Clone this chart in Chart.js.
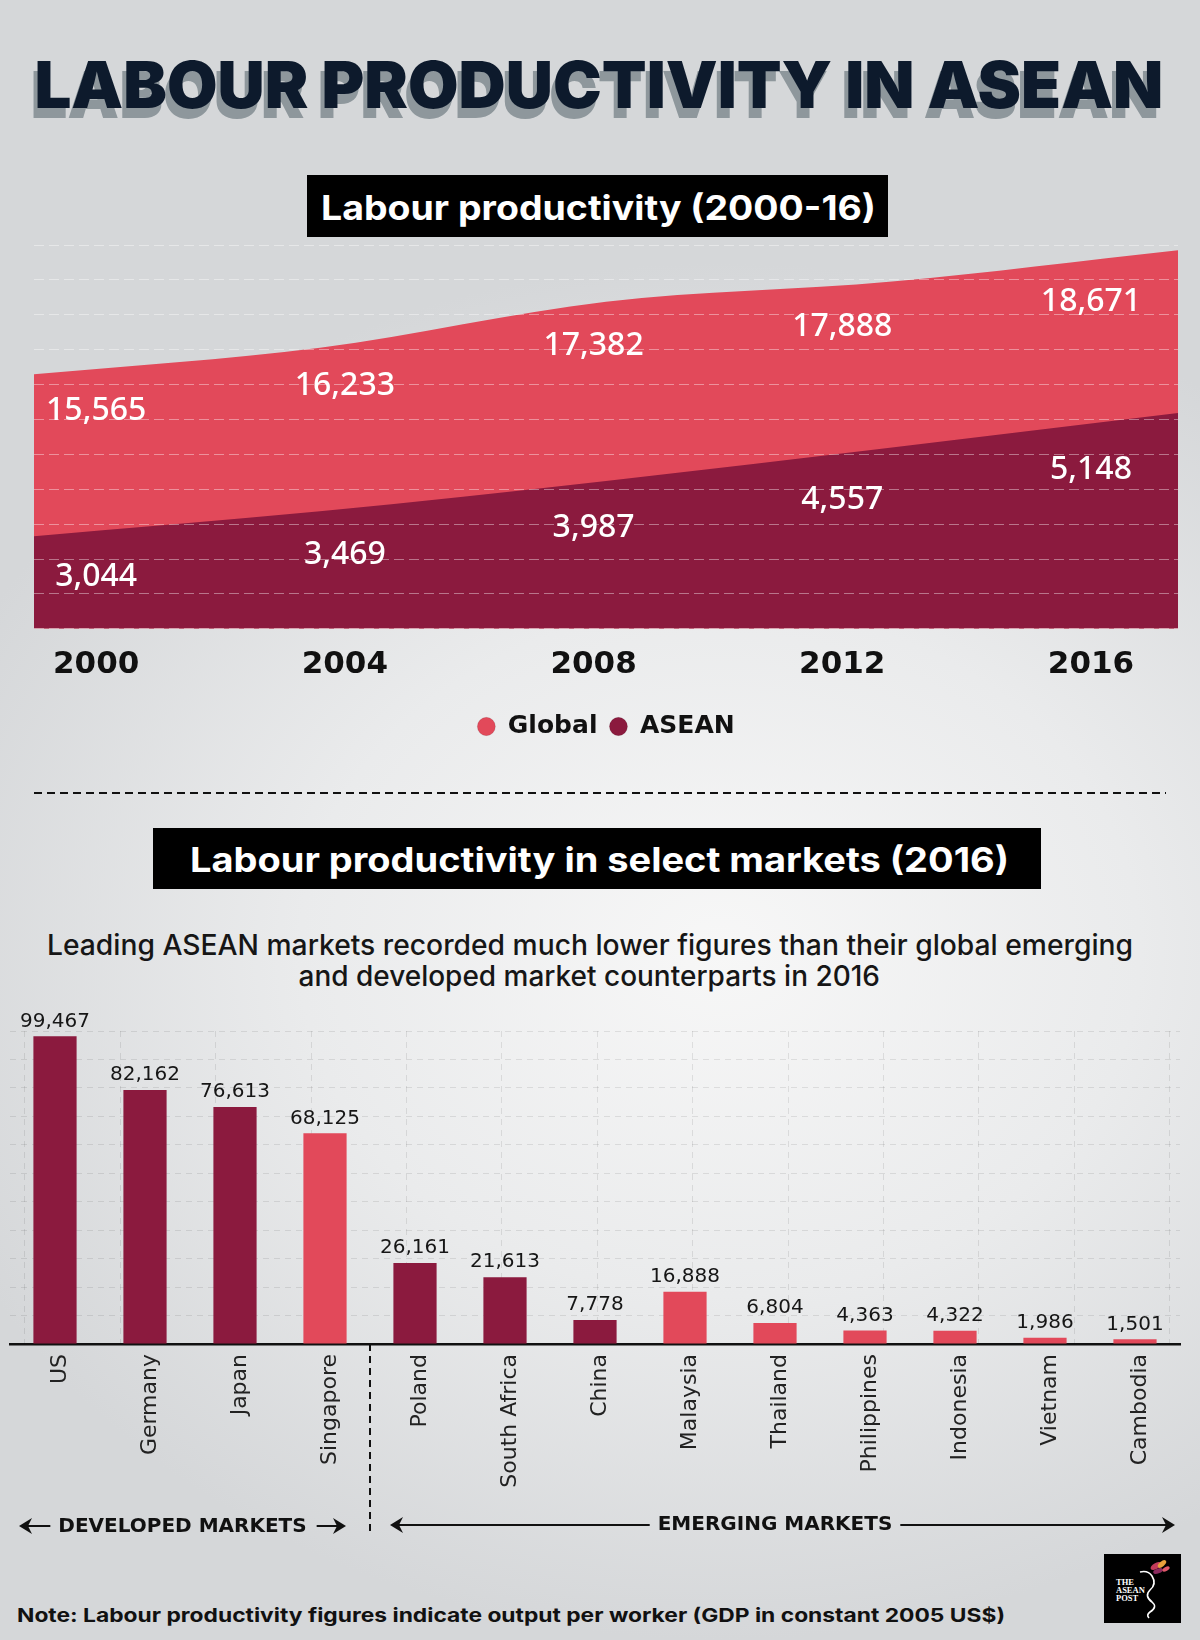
<!DOCTYPE html>
<html>
<head>
<meta charset="utf-8">
<title>Labour productivity in ASEAN</title>
<script src="https://cdn.jsdelivr.net/npm/chart.js@4.4.1/dist/chart.umd.min.js"></script>
<style>
  html, body { margin: 0; padding: 0; }
  body {
    width: 1200px; height: 1640px; position: relative; overflow: hidden;
    background: radial-gradient(ellipse 70% 42% at 60% 58%, #f7f7f7 0%, #eaebec 50%, #d5d7d9 100%);
  }
  #art { position: absolute; left: 0; top: 0; }
  canvas { position: absolute; left: 0; }
  #trendChart { top: 230px; }
  #marketChart { top: 990px; }
</style>
</head>
<body>
<svg id="art" width="1200" height="1640" xmlns="http://www.w3.org/2000/svg">
  <g font-family="Inter, 'Noto Sans', sans-serif">
    <text x="30.4" y="118.3" font-size="64" font-weight="900" fill="#8e979c" textLength="1129" lengthAdjust="spacingAndGlyphs">LABOUR PRODUCTIVITY IN ASEAN</text>
    <text x="34.4" y="108.3" font-size="64" font-weight="900" fill="#0d1a2c" textLength="1129" lengthAdjust="spacingAndGlyphs">LABOUR PRODUCTIVITY IN ASEAN</text>

    <rect x="307" y="175" width="581" height="62" fill="#000"/>
    <text x="321" y="220" font-size="34" font-weight="700" fill="#fff" textLength="555" lengthAdjust="spacingAndGlyphs">Labour productivity (2000-16)</text>

    <line x1="34" y1="793" x2="1166" y2="793" stroke="#111" stroke-width="2" stroke-dasharray="8 5"/>

    <rect x="153" y="828" width="888" height="61" fill="#000"/>
    <text x="190" y="872" font-size="34" font-weight="700" fill="#fff" textLength="819" lengthAdjust="spacingAndGlyphs">Labour productivity in select markets (2016)</text>

    <text x="47" y="955" font-size="28" font-weight="500" fill="#161616" textLength="1086" lengthAdjust="spacingAndGlyphs">Leading ASEAN markets recorded much lower figures than their global emerging</text>
    <text x="298.5" y="986" font-size="28" font-weight="500" fill="#161616" textLength="581.5" lengthAdjust="spacingAndGlyphs">and developed market counterparts in 2016</text>

    <text x="17" y="1622" font-size="19" font-weight="700" fill="#111" textLength="988" lengthAdjust="spacingAndGlyphs">Note: Labour productivity figures indicate output per worker (GDP in constant 2005 US$)</text>
  </g>

  <!-- publisher mark -->
  <g>
    <rect x="1104" y="1554" width="77" height="69" fill="#000"/>
    <g font-family="'Liberation Serif', serif" font-weight="700" font-size="8.5" fill="#fff">
      <text x="1116" y="1585">THE</text>
      <text x="1116" y="1593">ASEAN</text>
      <text x="1116" y="1601">POST</text>
    </g>
    <path d="M1140 1572 q8 -2 12 4 q5 8 -2 14 q-6 6 2 12 q6 5 -2 10 q-4 3 -1 6" fill="none" stroke="#fff" stroke-width="1.6"/>
    <ellipse cx="1156" cy="1566" rx="6" ry="3" fill="#c23a5a" transform="rotate(-30 1156 1566)"/>
    <ellipse cx="1162" cy="1564" rx="5" ry="2.5" fill="#e8a23c" transform="rotate(-40 1162 1564)"/>
    <ellipse cx="1158" cy="1571" rx="5" ry="2.5" fill="#8a2a5e" transform="rotate(-20 1158 1571)"/>
    <ellipse cx="1166" cy="1569" rx="4" ry="2" fill="#e0586a" transform="rotate(-30 1166 1569)"/>
  </g>
</svg>

<canvas id="trendChart" width="1200" height="540"></canvas>
<canvas id="marketChart" width="1200" height="570"></canvas>

<script>
// ---- labour productivity, 2000-16 (output per worker, constant 2005 US$) ----
const years = [2000, 2004, 2008, 2012, 2016];
const globalLP = [15565, 16233, 17382, 17888, 18671];
const aseanLP = [3044, 3469, 3987, 4557, 5148];

// ---- select markets, 2016 ----
const markets = ['US', 'Germany', 'Japan', 'Singapore', 'Poland', 'South Africa', 'China',
                 'Malaysia', 'Thailand', 'Philippines', 'Indonesia', 'Vietnam', 'Cambodia'];
const marketLP = [99467, 82162, 76613, 68125, 26161, 21613, 7778, 16888, 6804, 4363, 4322, 1986, 1501];
const aseanMember = [false, false, false, true, false, false, false, true, true, true, true, true, true];
const developedCount = 4; // US, Germany, Japan, Singapore

const RED = '#e2495a';
const MAROON = '#8b1a3e';

Chart.defaults.font.family = "'DejaVu Sans', sans-serif";
Chart.defaults.color = '#111';

const fmt = v => v.toLocaleString('en-US');

// y of the drawn outline at pixel x (straight between the points)
function curveYAt(meta, px) {
    const pts = meta.data;
    for (let i = 0; i < pts.length - 1; i++) {
        const a = pts[i], b = pts[i + 1];
        if (px >= a.x && px <= b.x) {
            return a.y + (b.y - a.y) * (px - a.x) / (b.x - a.x);
        }
    }
    return pts[pts.length - 1].y;
}

// value labels sit a little under each outline, in the year columns
const labelDrop = [42, 46];
const areaLabels = {
    id: 'areaLabels',
    afterDatasetsDraw(chart) {
        const { ctx } = chart;
        const xYears = chart.scales.xYears;
        ctx.save();
        ctx.fillStyle = '#fff';
        ctx.font = '500 32px "Noto Sans", sans-serif';
        ctx.textAlign = 'center';
        ctx.textBaseline = 'middle';
        chart.data.datasets.forEach((ds, di) => {
            const meta = chart.getDatasetMeta(di);
            ds.data.forEach(pt => {
                const x = xYears.getPixelForValue(pt.x);
                ctx.fillText(fmt(pt.y), x, curveYAt(meta, x) + labelDrop[di]);
            });
        });
        ctx.restore();
    }
};

new Chart(document.getElementById('trendChart'), {
    type: 'line',
    data: {
        datasets: [
            {
                label: 'Global',
                data: years.map((x, i) => ({ x, y: globalLP[i] })),
                xAxisID: 'x', yAxisID: 'yGlobal',
                backgroundColor: RED, fill: 'start', order: 2
            },
            {
                label: 'ASEAN',
                data: years.map((x, i) => ({ x, y: aseanLP[i] })),
                xAxisID: 'x', yAxisID: 'yAsean',
                backgroundColor: MAROON, fill: 'start', order: 1
            }
        ]
    },
    options: {
        responsive: false,
        animation: false,
        layout: { padding: { left: 34, right: 22, top: 15, bottom: 21 } },
        elements: {
            line: { borderWidth: 0, cubicInterpolationMode: 'monotone' },
            point: { radius: 0 }
        },
        scales: {
            x: { type: 'linear', display: false, min: 2000, max: 2016 },
            xYears: {
                axis: 'x', type: 'linear', position: 'bottom', min: 1999, max: 2017.4,
                afterBuildTicks: s => { s.ticks = years.map(v => ({ value: v })); },
                grid: { display: false, drawTicks: false },
                border: { display: false },
                ticks: {
                    padding: 18, maxRotation: 0, autoSkip: false, color: '#111',
                    font: { size: 31, weight: 'bold' },
                    callback: v => String(v)
                }
            },
            yGlobal: { axis: 'y', display: false, min: 9200, max: 18800 },
            yAsean: { axis: 'y', display: false, min: 1460, max: 8020 },
            gridY: {
                axis: 'y', position: 'left', min: 0, max: 11,
                ticks: { display: false, stepSize: 1 },
                grid: { z: 1, color: 'rgba(255,255,255,0.4)', drawTicks: false },
                border: { display: false, dash: [10, 5] }
            }
        },
        plugins: {
            legend: {
                position: 'bottom',
                labels: {
                    sort: (a, b) => a.datasetIndex - b.datasetIndex,
                    usePointStyle: true, pointStyle: 'circle',
                    pointStyleWidth: 18, boxHeight: 13, padding: 12,
                    color: '#111', font: { size: 25, weight: 'bold' }
                }
            },
            tooltip: { enabled: false }
        }
    },
    plugins: [areaLabels]
});

// ---- bar chart ----
const barValueLabels = {
    id: 'barValueLabels',
    afterDatasetsDraw(chart) {
        const { ctx } = chart;
        const meta = chart.getDatasetMeta(0);
        ctx.save();
        ctx.fillStyle = '#161616';
        ctx.font = '20px "DejaVu Sans", sans-serif';
        ctx.textAlign = 'center';
        ctx.textBaseline = 'middle';
        meta.data.forEach((bar, i) => ctx.fillText(fmt(marketLP[i]), bar.x, bar.y - 15));
        ctx.restore();
    }
};

function drawArrow(ctx, tailX, tipX, y) {
    const dir = Math.sign(tipX - tailX);
    ctx.beginPath();
    ctx.moveTo(tailX, y);
    ctx.lineTo(tipX - dir * 6, y);
    ctx.stroke();
    ctx.beginPath();
    ctx.moveTo(tipX, y);
    ctx.lineTo(tipX - dir * 13, y - 8);
    ctx.lineTo(tipX - dir * 9, y);
    ctx.lineTo(tipX - dir * 13, y + 8);
    ctx.closePath();
    ctx.fill();
}

const marketGroups = {
    id: 'marketGroups',
    afterDraw(chart) {
        const { ctx, chartArea } = chart;
        const x = chart.scales.x;
        const left = x.getPixelForValue(-0.5);
        const split = x.getPixelForValue(developedCount - 0.5);
        const right = x.getPixelForValue(markets.length - 0.5);
        const rowY = chartArea.bottom + 182;

        ctx.save();
        ctx.strokeStyle = '#111';
        ctx.fillStyle = '#111';
        ctx.lineWidth = 2;
        ctx.setLineDash([7, 5]);
        ctx.beginPath();
        ctx.moveTo(split, chartArea.bottom);
        ctx.lineTo(split, chartArea.bottom + 190);
        ctx.stroke();
        ctx.setLineDash([]);

        ctx.font = 'bold 20px "DejaVu Sans", sans-serif';
        ctx.textAlign = 'center';
        ctx.textBaseline = 'middle';

        // developed
        const dL = left + 9, dR = split - 24, dMid = (dL + dR) / 2;
        const dHalf = ctx.measureText('DEVELOPED MARKETS').width / 2;
        ctx.fillText('DEVELOPED MARKETS', dMid, rowY + 1);
        drawArrow(ctx, dMid - dHalf - 8, dL, rowY);
        drawArrow(ctx, dMid + dHalf + 10, dR, rowY);

        // emerging
        const eMid = x.getPixelForValue((developedCount + markets.length - 1) / 2);
        const eHalf = ctx.measureText('EMERGING MARKETS').width / 2;
        ctx.fillText('EMERGING MARKETS', eMid, rowY - 1);
        drawArrow(ctx, eMid - eHalf - 8, split + 20, rowY - 1);
        drawArrow(ctx, eMid + eHalf + 8, right - 5, rowY - 1);
        ctx.restore();
    }
};

const gridDash = [6, 5];
const gridColor = 'rgba(0,0,0,0.09)';

new Chart(document.getElementById('marketChart'), {
    type: 'bar',
    data: {
        labels: markets,
        datasets: [{
            data: marketLP,
            backgroundColor: aseanMember.map(a => (a ? RED : MAROON)),
            barPercentage: 0.48,
            categoryPercentage: 1
        }]
    },
    options: {
        responsive: false,
        animation: false,
        layout: { padding: { left: 10, right: 20, top: 41, bottom: 0 } },
        scales: {
            x: {
                type: 'category', offset: true,
                grid: { display: false, drawTicks: false },
                border: { display: true, color: '#111', width: 2.5 },
                ticks: {
                    autoSkip: false, minRotation: 90, maxRotation: 90, padding: 10,
                    labelOffset: 5, color: '#222', font: { size: 22 }
                },
                afterFit: s => { s.height = 216; }
            },
            xGrid: {
                axis: 'x', type: 'linear', position: 'bottom', min: -0.144, max: 11.096,
                afterBuildTicks: s => { s.ticks = Array.from({ length: 12 }, (_, i) => ({ value: i })); },
                ticks: { display: false },
                grid: { color: gridColor, drawTicks: false },
                border: { display: false, dash: gridDash }
            },
            y: {
                min: 0, max: 101200,
                ticks: { display: false, stepSize: 9200 },
                grid: { color: gridColor, drawTicks: false },
                border: { display: false, dash: gridDash }
            }
        },
        plugins: {
            legend: { display: false },
            tooltip: { enabled: false }
        }
    },
    plugins: [barValueLabels, marketGroups]
});
</script>
</body>
</html>
